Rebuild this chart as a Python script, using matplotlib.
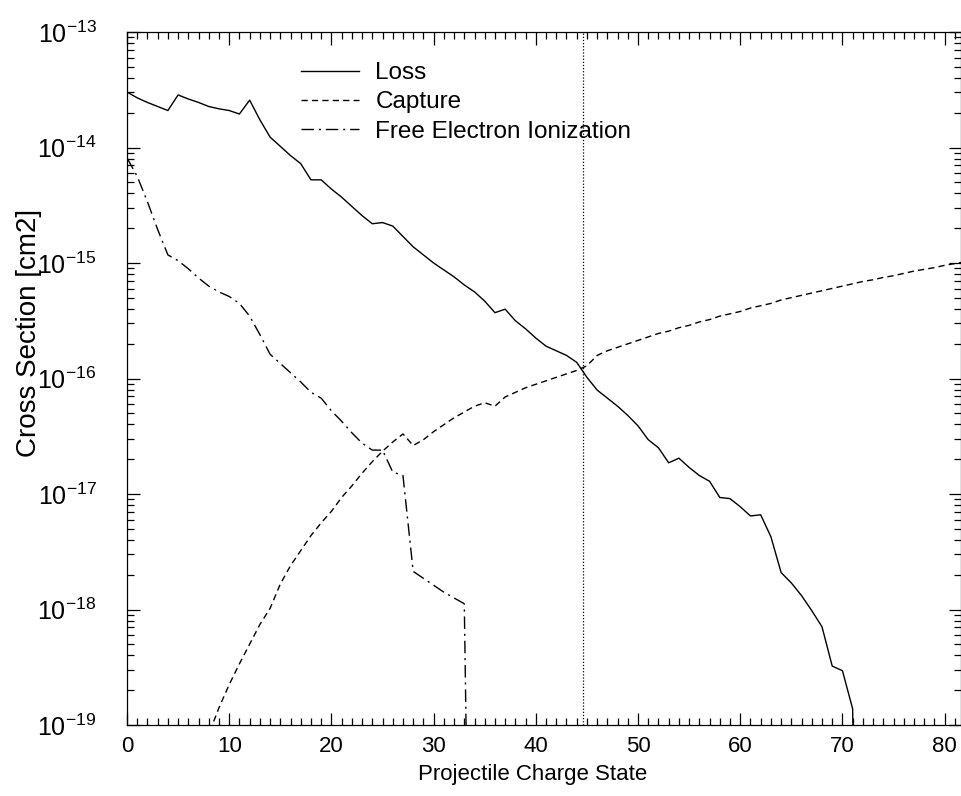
import numpy as np
import matplotlib
matplotlib.use("Agg")
import matplotlib.pyplot as plt
from matplotlib.ticker import MultipleLocator, LogLocator, NullFormatter

plt.rcParams['font.family'] = ['Liberation Sans', 'DejaVu Sans']

# log10 of cross sections, one value per charge state
loss_q = list(range(0, 73))
loss_log = [-13.52, -13.57, -13.61, -13.645, -13.68, -13.545, -13.58, -13.61, -13.645, -13.665,
            -13.68, -13.71, -13.59, -13.76, -13.91, -13.99, -14.07, -14.14, -14.28, -14.28,
            -14.36, -14.43, -14.51, -14.59, -14.66, -14.65, -14.68, -14.77, -14.86, -14.93,
            -15.0, -15.06, -15.12, -15.19, -15.25, -15.33, -15.43, -15.40, -15.50, -15.57,
            -15.65, -15.72, -15.76, -15.80, -15.86, -15.99, -16.10, -16.17, -16.24, -16.32,
            -16.41, -16.53, -16.60, -16.73, -16.69, -16.77, -16.84, -16.89, -17.03, -17.04,
            -17.11, -17.19, -17.18, -17.37, -17.68, -17.77, -17.88, -18.01, -18.15, -18.49,
            -18.53, -18.86, -25.0]

capture_q = list(range(7, 83))
capture_log = [-19.4, -19.08, -18.85, -18.65, -18.47, -18.30, -18.13, -17.99, -17.78, -17.62,
               -17.49, -17.36, -17.25, -17.15, -17.03, -16.93, -16.82, -16.72, -16.63, -16.55,
               -16.48, -16.58, -16.53, -16.46, -16.40, -16.34, -16.29, -16.24, -16.21, -16.24,
               -16.16, -16.12, -16.08, -16.05, -16.02, -15.99, -15.96, -15.93, -15.89, -15.80,
               -15.76, -15.73, -15.70, -15.67, -15.64, -15.61, -15.59, -15.56, -15.54, -15.51,
               -15.49, -15.46, -15.44, -15.42, -15.39, -15.37, -15.35, -15.32, -15.30, -15.28,
               -15.26, -15.24, -15.22, -15.20, -15.18, -15.16, -15.145, -15.125, -15.11, -15.09,
               -15.07, -15.055, -15.04, -15.02, -15.005, -14.99]

fei_q = list(range(0, 35))
fei_log = [-14.09, -14.25, -14.47, -14.71, -14.93, -14.98, -15.05, -15.13, -15.20, -15.25,
           -15.29, -15.35, -15.46, -15.62, -15.79, -15.87, -15.95, -16.03, -16.12, -16.17,
           -16.28, -16.37, -16.47, -16.56, -16.62, -16.62, -16.81, -16.84, -17.67, -17.73,
           -17.79, -17.85, -17.90, -17.95, -24.0]

crossing_q = 44.6
y_decades = [1e-19, 1e-18, 1e-17, 1e-16, 1e-15, 1e-14, 1e-13]

fig = plt.figure(figsize=(9.62, 7.96), dpi=100)
ax = fig.add_axes([127 / 962, 1 - 725 / 796, 834 / 962, 693 / 796])

ax.plot(loss_q, 10.0 ** np.array(loss_log), color='black', lw=1.0, label='Loss')
ax.plot(capture_q, 10.0 ** np.array(capture_log), color='black', lw=1.0,
        dashes=(4.5, 3), label='Capture')
ax.plot(fei_q, 10.0 ** np.array(fei_log), color='black', lw=1.0,
        dashes=(9, 3.5, 1.5, 3.5), label='Free Electron Ionization')
ax.axvline(crossing_q, color='black', lw=0.9, linestyle=(0, (1, 1.5)))

ax.set_yscale('log')
ax.set_xlim(0, 81.6)
ax.set_ylim(1e-19, 1e-13)
ax.xaxis.set_major_locator(MultipleLocator(10))
ax.xaxis.set_minor_locator(MultipleLocator(1))
ax.set_yticks(y_decades)
ax.yaxis.set_minor_locator(LogLocator(base=10, subs=np.arange(2, 10), numticks=20))
ax.yaxis.set_minor_formatter(NullFormatter())
ax.tick_params(which='both', direction='in', top=True, right=True, width=0.9)
ax.tick_params(which='major', length=9)
ax.tick_params(which='minor', length=5)
ax.tick_params(axis='x', which='major', labelsize=16, pad=8)
ax.tick_params(axis='y', which='major', labelsize=18, pad=22)
for s in ax.spines.values():
    s.set_linewidth(0.9)

ax.set_xlabel('Projectile Charge State', fontsize=16)
ax.xaxis.set_label_coords((533 - 127) / 834, -(764 - 725) / 693)
ax.xaxis.label.set_va('top')
ax.set_ylabel('Cross Section [cm2]', fontsize=20)
ax.yaxis.set_label_coords(-(127 - 42) / 834, (725 - 333) / 693)

ax.legend(loc='upper left', bbox_to_anchor=(289 / 962, 1 - 50 / 796),
          bbox_transform=fig.transFigure, frameon=False, fontsize=17.5,
          handlelength=2.4, handletextpad=0.65, borderpad=0, labelspacing=0.3)

fig.savefig('out.png', dpi=100)
